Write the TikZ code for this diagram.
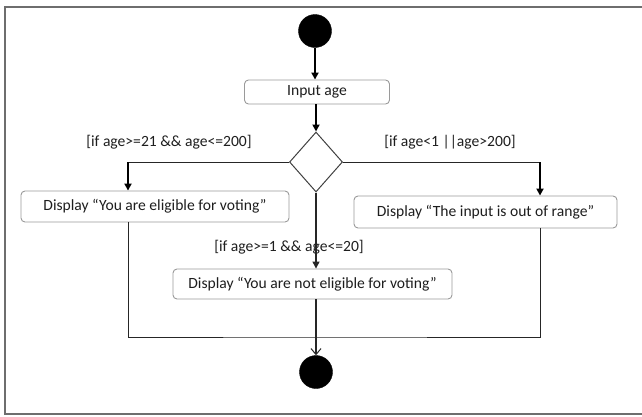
\documentclass[tikz,border=0pt]{standalone}
\usepackage{fontspec}
\setmainfont{Carlito}
\usetikzlibrary{arrows.meta,shapes.geometric}
\definecolor{boxgray}{HTML}{9A9A9A}
\definecolor{framegray}{HTML}{6E6E6E}
\definecolor{txt}{HTML}{1E1E1E}
\tikzset{
  actbox/.style={draw=boxgray, line width=0.9pt, rounded corners=4pt, fill=white,
    text=txt, inner sep=0pt, font=\fontsize{15.6}{18}\selectfont},
  guard/.style={text=txt, inner sep=0pt, font=\fontsize{15.6}{18}\selectfont},
  dot/.style={circle, fill=black, draw=black, minimum size=33pt, inner sep=0pt},
  decision/.style={diamond, draw=black!75, line width=1pt, minimum width=53pt, minimum height=60pt, inner sep=0pt},
  flow/.style={draw=black!85, line width=0.9pt},
  thickflow/.style={draw=black, line width=1.8pt},
  tipfill/.style={-{Triangle[length=7pt,width=7pt]}},
  tipopen/.style={-{Straight Barb[length=6pt,width=10pt,line width=1pt]}}
}
\begin{document}
\begin{tikzpicture}[x=1pt,y=-1pt]
\useasboundingbox (0,0) rectangle (642,416);
% frame
\draw[framegray, line width=2pt] (645,6.5) -- (4.5,6.5) -- (4.5,413.5) -- (645,413.5);
% nodes
\node[dot] (start) at (315,31) {};
\node[actbox, minimum width=145pt, minimum height=24pt] (input) at (317,92) {Input age};
\node[decision] (dec) at (316,162) {};
\node[actbox, minimum width=268pt, minimum height=31pt] (elig) at (155,206.5) {Display “You are eligible for voting”};
\node[actbox, minimum width=263pt, minimum height=32pt] (range) at (485.5,212) {Display “The input is out of range”};
\node[actbox, minimum width=279pt, minimum height=30pt] (notelig) at (312.5,284) {Display “You are not eligible for voting”};
\node[dot] (end) at (316,372) {};
% guards
\node[guard] (g1) at (169,142) {[if age>=21 \&\& age<=200]};
\node[guard] (g2) at (450,142) {[if age<1 ||age>200]};
\node[guard] (g3) at (289,247) {[if age>=1 \&\& age<=20]};
\coordinate (lc) at (128,162);
\coordinate (rc) at (540,162);
\coordinate (join) at (316,337);
% connectors
\draw[thickflow, tipfill] (start.south) -- (start.south |- input.north);
\draw[thickflow, tipfill] (input.south -| dec.north) -- (dec.north);
\draw[flow] (dec.west) -- (lc);
\draw[thickflow, tipfill] ([yshift=-0.45pt]lc) -- ([xshift=-27pt]elig.north);
\draw[flow] (dec.east) -- (rc);
\draw[thickflow, tipfill] ([yshift=-0.45pt]rc) -- ([xshift=54.5pt]range.north);
\draw[flow, line width=1.2pt, tipfill] (dec.south) -- ([xshift=3.5pt]notelig.north);
\draw[flow] ([xshift=-27pt]elig.south) |- (join) -| ([xshift=54.5pt]range.south);
\draw[flow, line width=1.2pt, tipopen] ([xshift=3.5pt]notelig.south) -- (end.north);
\end{tikzpicture}
\end{document}
